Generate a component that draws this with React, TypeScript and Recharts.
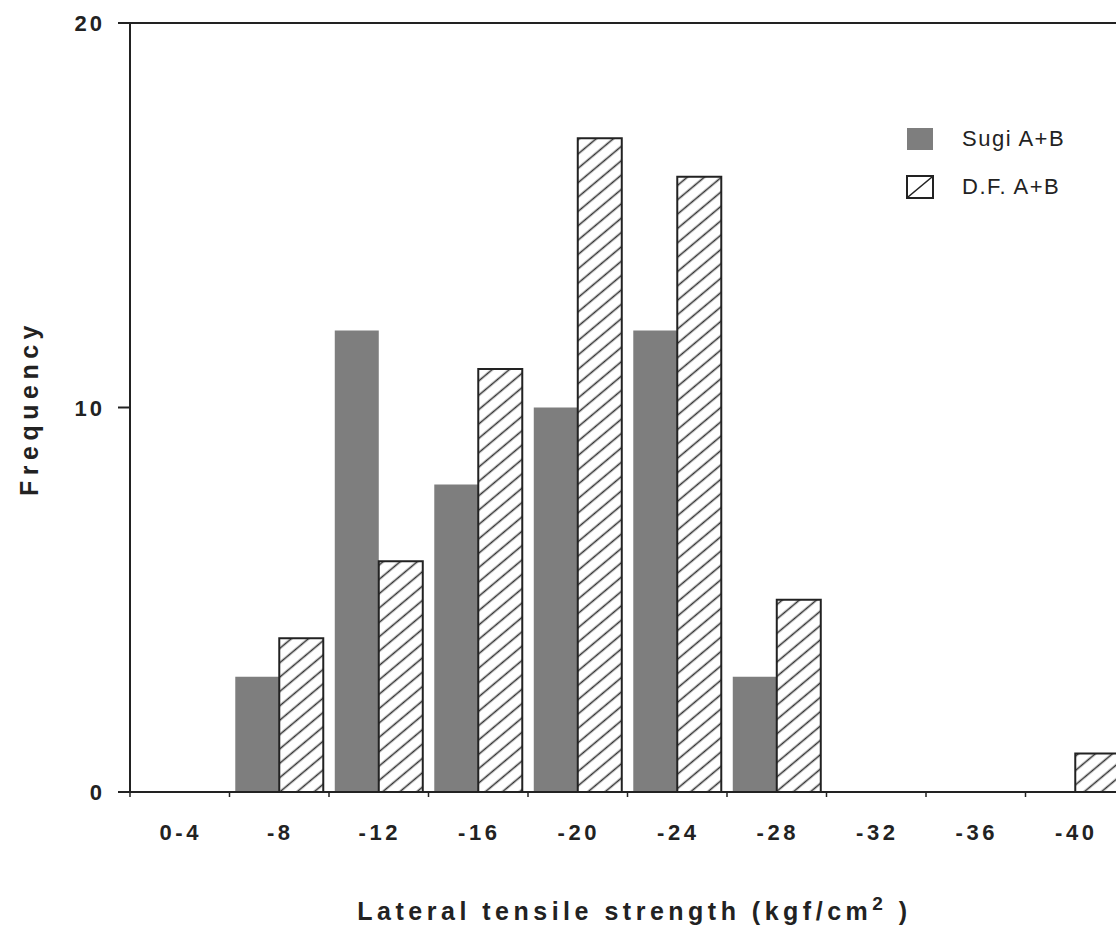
import React from 'react';
import { BarChart, Bar, XAxis, YAxis, ReferenceLine, Legend, Label } from 'recharts';

const categories = ['0-4', '-8', '-12', '-16', '-20', '-24', '-28', '-32', '-36', '-40'];
const sugiValues = [0, 3, 12, 8, 10, 12, 3, 0, 0, 0];
const dfValues = [0, 4, 6, 11, 17, 16, 5, 0, 0, 1];
const yTicks = [0, 10, 20];
const seriesKeys = ['sugi', 'df'];
const seriesNames = ['Sugi A+B', 'D.F. A+B'];

const data = categories.map((c, i) => ({ cat: c, sugi: sugiValues[i], df: dfValues[i] }));

const FONT = '"Liberation Sans", Arial, Helvetica, sans-serif';
const INK = '#222';
const GRAY = '#7e7e7e';

const CHART_W = 1150;
const CHART_H = 935;
const MARGIN = { top: 23, right: 25, bottom: 83, left: 0 };
const Y_AXIS_W = 130;
const X_AXIS_H = 60;
const PLOT_W = CHART_W - MARGIN.left - MARGIN.right - Y_AXIS_W;
const STEP = PLOT_W / categories.length;

const XTick = (props: any) => {
  const { x, y, payload } = props;
  const bx = x - STEP / 2;
  return (
    <g>
      <line x1={bx} y1={y} x2={bx} y2={y + 5} stroke={INK} strokeWidth={1.5} />
      <text
        x={x + 1}
        y={y + 48}
        textAnchor="middle"
        fontSize={22}
        fontWeight="bold"
        letterSpacing={3.5}
        fill={INK}
        fontFamily={FONT}
      >
        {payload.value}
      </text>
    </g>
  );
};

const YTick = (props: any) => {
  const { x, y, payload } = props;
  return (
    <g>
      <line x1={x - 12} y1={y} x2={x} y2={y} stroke={INK} strokeWidth={2} />
      <text
        x={x - 25}
        y={y + 8}
        textAnchor="end"
        fontSize={22}
        fontWeight="bold"
        letterSpacing={3}
        fill={INK}
        fontFamily={FONT}
      >
        {payload.value}
      </text>
    </g>
  );
};

const XTitle = (props: any) => {
  const vb = props.viewBox || { x: 130, y: 792, width: PLOT_W, height: X_AXIS_H };
  const cx = vb.x + vb.width / 2 + 7;
  const by = vb.y + 128;
  return (
    <text x={cx} y={by} textAnchor="middle" fontSize={25} fontWeight="bold" letterSpacing={4.5} fill={INK} fontFamily={FONT}>
      <tspan>Lateral tensile strength (kgf/cm</tspan>
      <tspan fontSize={19} dy={-10}>2</tspan>
      <tspan dy={10}> )</tspan>
    </text>
  );
};

const YTitle = () => {
  const cx = 29;
  const cy = 408;
  return (
    <text
      x={cx}
      y={cy}
      transform={`rotate(-90, ${cx}, ${cy})`}
      textAnchor="middle"
      dominantBaseline="central"
      fontSize={25}
      fontWeight="bold"
      letterSpacing={5.5}
      fill={INK}
      fontFamily={FONT}
    >
      Frequency
    </text>
  );
};

const Swatch = ({ kind }: { kind: string }) => (
  <svg width={28} height={24} style={{ display: 'block' }}>
    {kind === 'sugi' ? (
      <rect x={1} y={1} width={26} height={22} fill={GRAY} />
    ) : (
      <g>
        <rect x={1} y={1} width={26} height={22} fill="#fff" stroke={INK} strokeWidth={2} />
        <line x1={2} y1={22} x2={26} y2={2} stroke={INK} strokeWidth={1.6} />
      </g>
    )}
  </svg>
);

const renderLegend = (props: any) => {
  const payload = ((props && props.payload) || []).slice();
  payload.sort((a: any, b: any) => seriesKeys.indexOf(a.dataKey) - seriesKeys.indexOf(b.dataKey));
  return (
    <div style={{ fontFamily: FONT }}>
      {payload.map((entry: any, i: number) => (
        <div key={i} style={{ display: 'flex', alignItems: 'center', height: 48 }}>
          <Swatch kind={entry.dataKey} />
          <span style={{ marginLeft: 28, fontSize: 22, letterSpacing: 1.5, color: INK }}>{entry.value}</span>
        </div>
      ))}
    </div>
  );
};

export default function App() {
  return (
    <div
      style={{
        position: 'absolute',
        left: 0,
        top: 0,
        width: 1116,
        height: 935,
        overflow: 'hidden',
        background: '#fff',
      }}
    >
      <BarChart
        width={CHART_W}
        height={CHART_H}
        data={data}
        margin={MARGIN}
        barCategoryGap="5.8%"
        barGap={0}
      >
        <defs>
          <pattern id="hatch" patternUnits="userSpaceOnUse" width={12} height={11} patternTransform="rotate(-40)">
            <rect x={0} y={0} width={12} height={11} fill="#fff" />
            <line x1={0} y1={5.5} x2={12} y2={5.5} stroke="#333" strokeWidth={1.6} />
          </pattern>
        </defs>
        <XAxis
          dataKey="cat"
          type="category"
          interval={0}
          height={X_AXIS_H}
          tickSize={0}
          tickMargin={0}
          tickLine={false}
          tick={<XTick />}
          axisLine={{ stroke: INK, strokeWidth: 2 }}
        >
          <Label content={<XTitle />} />
        </XAxis>
        <YAxis
          type="number"
          domain={[0, 20]}
          ticks={yTicks}
          width={Y_AXIS_W}
          tickSize={0}
          tickMargin={0}
          tickLine={false}
          tick={<YTick />}
          axisLine={{ stroke: INK, strokeWidth: 2 }}
        >
          <Label content={<YTitle />} />
        </YAxis>
        <ReferenceLine y={20} stroke={INK} strokeWidth={2} />
        <Legend
          layout="vertical"
          align="center"
          verticalAlign="middle"
          content={renderLegend}
          wrapperStyle={{ left: 906, top: 115, width: 220, height: 100 }}
        />
        <Bar dataKey="sugi" name={seriesNames[0]} fill={GRAY} isAnimationActive={false} />
        <Bar dataKey="df" name={seriesNames[1]} fill="url(#hatch)" stroke={INK} strokeWidth={2} isAnimationActive={false} />
      </BarChart>
    </div>
  );
}
